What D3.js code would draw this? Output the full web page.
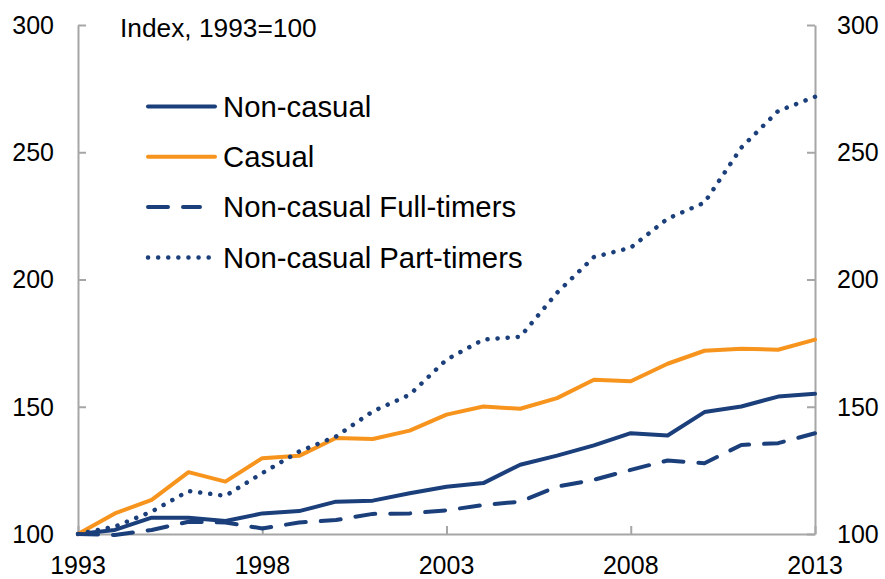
<!DOCTYPE html>
<html>
<head>
<meta charset="utf-8">
<script src="https://cdn.jsdelivr.net/npm/d3@7"></script>
<style>
  body { margin: 0; background: #fff; }
  svg { font-family: 'Liberation Sans', Arial, sans-serif; }
</style>
</head>
<body>
<svg id="chart" width="885" height="579"></svg>
<script>
const years = d3.range(1993, 2014)
const nonCasual = [100, 101.6, 106.4, 106.4, 105.1, 108.1, 109, 112.7, 113.1, 116, 118.6, 120, 127.2, 130.8, 134.8, 139.6, 138.7, 147.9, 150.1, 154, 155.1]
const casual = [100, 108.1, 113.4, 124.3, 120.6, 129.8, 130.7, 137.7, 137.3, 140.6, 146.9, 150.1, 149.2, 153.4, 160.6, 160, 166.9, 172, 172.8, 172.4, 176.4]
const fullTimers = [100, 99.6, 101.6, 104.8, 104.5, 102.2, 104.5, 105.5, 107.9, 108.1, 109.3, 111.4, 112.7, 118.6, 121.3, 125.2, 128.9, 127.8, 135, 135.7, 139.6]
const partTimers = [100, 102.9, 108.8, 116.9, 115, 123.9, 132.4, 138.3, 148.2, 154.7, 168.5, 176.4, 177.5, 194.8, 208.8, 212.5, 223.9, 230.2, 251.8, 266.2, 271.8]
const yTicks = [100, 150, 200, 250, 300]
const xTicks = [1993, 1998, 2003, 2008, 2013]

const navy = '#1b3f7b'
const orange = '#f7941d'
const series = [
  { name: 'Non-casual', values: nonCasual, color: navy, dash: null },
  { name: 'Casual', values: casual, color: orange, dash: null },
  { name: 'Non-casual Full-timers', values: fullTimers, color: navy, dash: '20,15' },
  { name: 'Non-casual Part-timers', values: partTimers, color: navy, dash: '0.1,10' }
]

const svg = d3.select('#chart')
const margin = { left: 78, right: 815, top: 25, bottom: 534 }

const x = d3.scaleLinear().domain([1993, 2013]).range([margin.left, margin.right])
const y = d3.scaleLinear().domain([100, 300]).range([margin.bottom, margin.top])
const axisColor = '#a6a6a6'

// axes, ticks pointing inwards
svg.append('g').attr('transform', `translate(${margin.left},0)`)
  .call(d3.axisRight(y).tickValues(yTicks).tickSize(8).tickSizeOuter(0).tickFormat(''))
svg.append('g').attr('transform', `translate(${margin.right},0)`)
  .call(d3.axisLeft(y).tickValues(yTicks).tickSize(8).tickSizeOuter(0).tickFormat(''))
svg.append('g').attr('transform', `translate(0,${margin.bottom})`)
  .call(d3.axisTop(x).tickValues(xTicks).tickSize(8).tickSizeOuter(0).tickFormat(''))
svg.selectAll('.domain').attr('stroke', axisColor).attr('stroke-width', 2)
svg.selectAll('.tick line').attr('stroke', axisColor).attr('stroke-width', 2)

// tick labels
svg.append('g').selectAll('text').data(yTicks).join('text')
  .attr('x', 54).attr('y', d => y(d)).attr('dy', '0.35em')
  .attr('text-anchor', 'end').attr('font-size', 25).text(d => d)
svg.append('g').selectAll('text').data(yTicks).join('text')
  .attr('x', 837).attr('y', d => y(d)).attr('dy', '0.35em')
  .attr('text-anchor', 'start').attr('font-size', 25).text(d => d)
svg.append('g').selectAll('text').data(xTicks).join('text')
  .attr('x', d => x(d)).attr('y', 574)
  .attr('text-anchor', 'middle').attr('font-size', 25).text(d => d)

svg.append('text').attr('x', 120).attr('y', 37).attr('font-size', 26.3)
  .text('Index, 1993=100')

// lines
const line = d3.line().x((d, i) => x(years[i])).y(d => y(d))
series.forEach(s => {
  svg.append('path')
    .datum(s.values)
    .attr('d', line)
    .attr('fill', 'none')
    .attr('stroke', s.color)
    .attr('stroke-width', s.dash === '0.1,10' ? 4.5 : 4)
    .attr('stroke-linecap', 'round')
    .attr('stroke-linejoin', 'round')
    .attr('stroke-dasharray', s.dash)
})

// legend
const legend = svg.append('g')
series.forEach((s, i) => {
  const ly = 106.5 + i * 50.3
  legend.append('line')
    .attr('x1', 148).attr('x2', s.dash === '20,15' ? 200 : 215)
    .attr('y1', ly).attr('y2', ly)
    .attr('stroke', s.color)
    .attr('stroke-width', s.dash === '0.1,10' ? 4.5 : 4)
    .attr('stroke-linecap', 'round')
    .attr('stroke-dasharray', s.dash)
  legend.append('text')
    .attr('x', 223).attr('y', ly).attr('dy', '0.35em')
    .attr('font-size', 29.3).text(s.name)
})
</script>
</body>
</html>
